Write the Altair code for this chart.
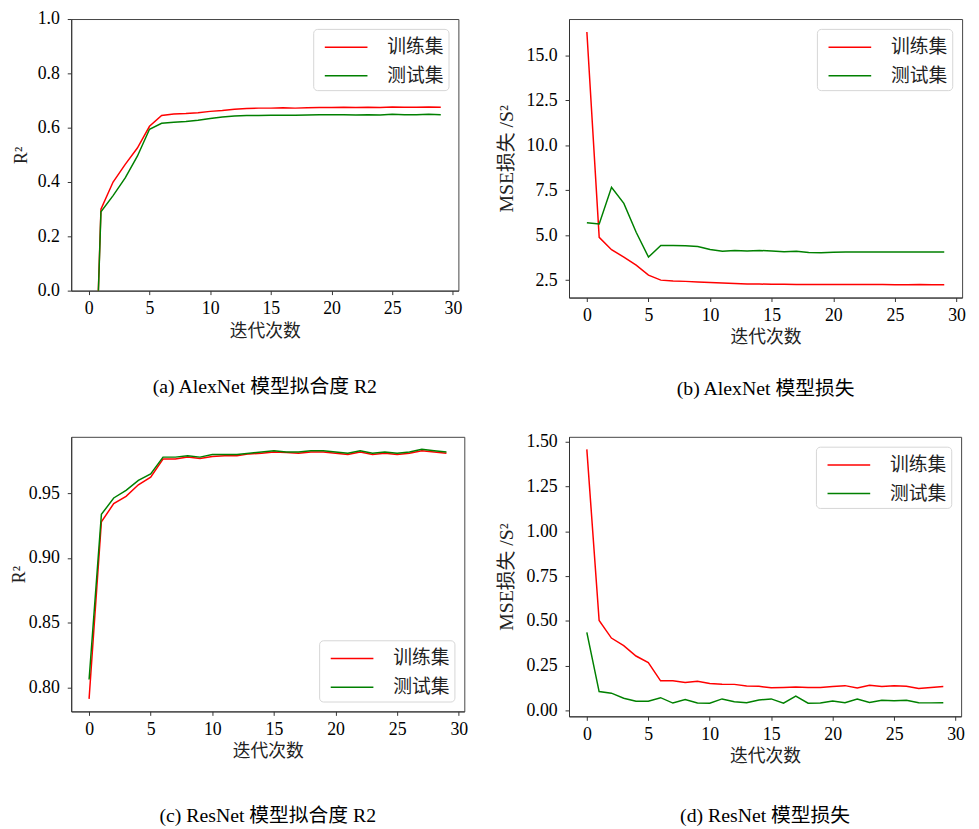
import altair as alt
import pandas as pd

# ---------------- data ----------------
iters = list(range(30))
SERIES = ["训练集", "测试集"]
COLORS = ["#ff0000", "#008000"]

a_train = [-1.1, 0.30, 0.40, 0.465, 0.525, 0.605, 0.645, 0.650, 0.652, 0.655, 0.660, 0.663, 0.668, 0.671, 0.672,
           0.672, 0.673, 0.672, 0.673, 0.674, 0.674, 0.675, 0.674, 0.675, 0.674, 0.676, 0.675, 0.675, 0.676, 0.675]
a_test = [-1.1, 0.29, 0.35, 0.415, 0.495, 0.594, 0.616, 0.620, 0.623, 0.627, 0.634, 0.639, 0.643, 0.645, 0.645,
          0.646, 0.646, 0.646, 0.647, 0.648, 0.648, 0.648, 0.647, 0.648, 0.647, 0.649, 0.648, 0.648, 0.649, 0.648]

b_train = [16.3, 4.88, 4.19, 3.78, 3.33, 2.78, 2.50, 2.45, 2.43, 2.40, 2.37, 2.34, 2.31, 2.29, 2.28,
           2.27, 2.27, 2.26, 2.26, 2.25, 2.25, 2.25, 2.25, 2.25, 2.26, 2.24, 2.24, 2.25, 2.24, 2.24]
b_test = [5.69, 5.62, 7.66, 6.77, 5.16, 3.78, 4.43, 4.43, 4.41, 4.37, 4.20, 4.10, 4.15, 4.12, 4.15,
          4.12, 4.08, 4.10, 4.03, 4.02, 4.05, 4.07, 4.07, 4.07, 4.07, 4.07, 4.06, 4.06, 4.06, 4.06]

c_train = [0.791, 0.928, 0.942, 0.9477, 0.9566, 0.9625, 0.9765, 0.9765, 0.978, 0.977, 0.9785, 0.979, 0.979, 0.9805, 0.981,
           0.982, 0.9815, 0.981, 0.982, 0.982, 0.981, 0.980, 0.982, 0.980, 0.981, 0.980, 0.981, 0.983, 0.982, 0.981]
c_test = [0.806, 0.9337, 0.9464, 0.9523, 0.960, 0.965, 0.978, 0.978, 0.979, 0.978, 0.980, 0.980, 0.980, 0.981, 0.982,
          0.983, 0.982, 0.982, 0.983, 0.983, 0.982, 0.981, 0.983, 0.981, 0.982, 0.981, 0.982, 0.984, 0.983, 0.982]

d_train = [1.456, 0.503, 0.405, 0.363, 0.305, 0.268, 0.167, 0.167, 0.158, 0.165, 0.152, 0.148, 0.147, 0.138, 0.136,
           0.128, 0.130, 0.132, 0.130, 0.130, 0.135, 0.140, 0.127, 0.142, 0.135, 0.140, 0.136, 0.124, 0.130, 0.135]
d_test = [0.437, 0.107, 0.098, 0.070, 0.053, 0.053, 0.073, 0.043, 0.063, 0.043, 0.042, 0.066, 0.050, 0.045, 0.060,
          0.066, 0.042, 0.082, 0.042, 0.043, 0.055, 0.045, 0.066, 0.046, 0.058, 0.056, 0.058, 0.045, 0.044, 0.045]

x_ticks = [0, 5, 10, 15, 20, 25, 30]
a_ticks = [0.0, 0.2, 0.4, 0.6, 0.8, 1.0]
b_ticks = [2.5, 5.0, 7.5, 10.0, 12.5, 15.0]
c_ticks = [0.80, 0.85, 0.90, 0.95]
d_ticks = [0.00, 0.25, 0.50, 0.75, 1.00, 1.25, 1.50]

SERIF = "Liberation Serif, Noto Sans CJK SC"
CJK = "Noto Sans CJK SC"


def panel(train, test, ydom, yticks, yfmt, ytitle, caption, w, h, lorient, ytpad, ytsize, capoff):
    df = pd.DataFrame({
        "x": iters + iters,
        "y": train + test,
        "s": [SERIES[0]] * len(train) + [SERIES[1]] * len(test),
    })
    return alt.Chart(df).mark_line(strokeWidth=1.5, clip=True).encode(
        x=alt.X("x:Q",
                scale=alt.Scale(domain=[-1.45, 30.45], nice=False, zero=False),
                axis=alt.Axis(values=x_ticks, format="d", title="迭代次数")),
        y=alt.Y("y:Q",
                scale=alt.Scale(domain=ydom, nice=False, zero=False),
                axis=alt.Axis(values=yticks, format=yfmt, title=ytitle,
                              titlePadding=ytpad, titleFontSize=ytsize)),
        color=alt.Color("s:N",
                        scale=alt.Scale(domain=SERIES, range=COLORS),
                        legend=alt.Legend(title=None, orient=lorient, offset=10)),
    ).properties(
        width=w, height=h,
        title=alt.TitleParams(caption, orient="bottom", anchor="middle", frame="group", offset=capoff),
    )


pa = panel(a_train, a_test, [0, 1.0], a_ticks, ".1f", "R²", "(a) AlexNet 模型拟合度 R2",
           392, 275, "top-right", 7, 18, 38)
pb = panel(b_train, b_test, [1.53, 17.02], b_ticks, ".1f", "MSE损失 /S²", "(b) AlexNet 模型损失",
           398, 282, "top-right", 10, 20, 33)
pc = panel(c_train, c_test, [0.7813, 0.9937], c_ticks, ".2f", "R²", "(c) ResNet 模型拟合度 R2",
           398, 278, "bottom-right", 0, 18, 46)
pd_ = panel(d_train, d_test, [-0.031, 1.526], d_ticks, ".2f", "MSE损失 /S²", "(d) ResNet 模型损失",
            397, 283, "top-right", 10, 20, 41)

chart = alt.concat(pa, pb, pc, pd_, columns=2, bounds="flush",
                   align={"row": "each", "column": "none"},
                   spacing={"row": 141, "column": 106}).properties(
    padding={"left": 2, "top": -4, "right": 5, "bottom": 5}
).configure_view(
    stroke="#444", strokeWidth=1
).configure_axis(
    grid=False,
    labelFont=SERIF, labelFontSize=18, labelColor="#000",
    titleFont=SERIF, titleFontSize=18, titleFontWeight="normal", titleColor="#222",
    tickSize=4, tickColor="#333", domainColor="#333",
).configure_axisX(
    labelPadding=5, titlePadding=5,
).configure_axisY(
    labelPadding=8,
).configure_legend(
    symbolType="M-0.5,0L2.7,0", symbolSize=729, symbolStrokeWidth=1.5,
    labelOffset=42, padding=4, rowPadding=4,
    fillColor="#ffffff", strokeColor="#d5d5d5", cornerRadius=4,
    labelFont=CJK, labelFontSize=19, labelColor="#222",
).configure_title(
    font=SERIF, fontSize=20, fontWeight="normal", color="#000",
)

chart.save("out.html", embed_options={"renderer": "svg", "actions": False})
